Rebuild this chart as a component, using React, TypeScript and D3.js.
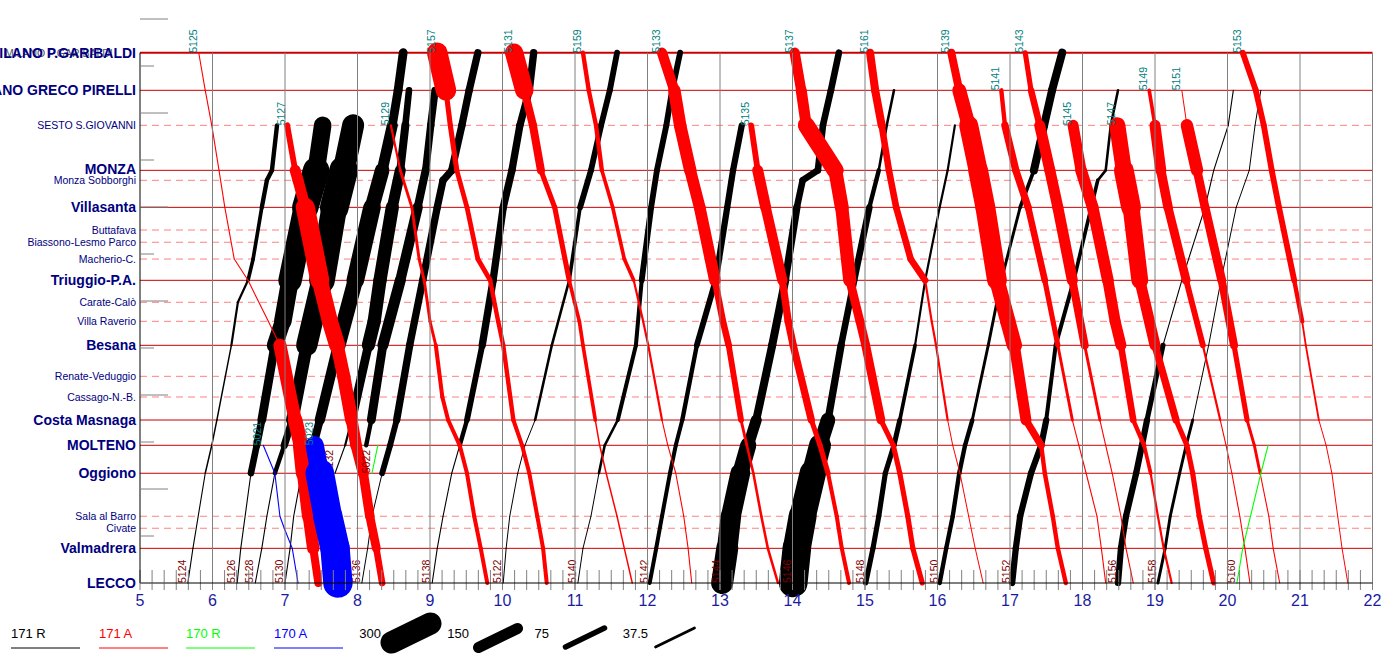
import React from "react";
import * as d3 from "d3";

const FONT = "'Liberation Sans', Arial, Helvetica, sans-serif";

// ---- stations (distance units: one tick = 4) ----
const stationCodes = ["G", "GP", "SS", "MZ", "MS", "VS", "BU", "BL", "MC", "TR", "CC", "VR", "BE", "RV", "CA", "CM", "MO", "OG", "SB", "CI", "VA", "LE"];
const stationNames = ["MILANO P.GARIBALDI", "MILANO GRECO PIRELLI", "SESTO S.GIOVANNI", "MONZA", "Monza Sobborghi", "Villasanta", "Buttafava", "Biassono-Lesmo Parco", "Macherio-C.", "Triuggio-P.A.", "Carate-Calò", "Villa Raverio", "Besana", "Renate-Veduggio", "Cassago-N.-B.", "Costa Masnaga", "MOLTENO", "Oggiono", "Sala al Barro", "Civate", "Valmadrera", "LECCO"];
const stationKm = [45.13, 41.93, 38.95, 35.12, 34.27, 31.97, 30.04, 29.0, 27.57, 25.76, 23.89, 22.27, 20.23, 17.59, 15.83, 13.87, 11.72, 9.34, 5.68, 4.66, 2.95, 0];
const stationMajor = [1, 1, 0, 1, 0, 1, 0, 0, 0, 1, 0, 0, 1, 0, 0, 1, 1, 1, 0, 0, 1, 1];

const hourTicks = [5, 6, 7, 8, 9, 10, 11, 12, 13, 14, 15, 16, 17, 18, 19, 20, 21, 22];
const distanceTicks = [0, 4, 8, 12, 16, 20, 24, 28, 32, 36, 40, 44, 48];
const loadLegend = [300, 150, 75, 37.5];
const lineNames = ["171 R", "171 A", "170 R", "170 A"];
const lineColors = ["#000000", "#ff0000", "#00ff00", "#0000ff"];

// [train number, stops, times (h), load per segment]
type Train = [string, string, number[], number[]];

const trains171R: Train[] = [
  ["5124", "LE VA OG MO CM BE VR CC TR MC VS MS MZ SS", [5.66, 5.73, 5.90, 5.99, 6.06, 6.26, 6.31, 6.35, 6.49, 6.56, 6.68, 6.75, 6.82, 6.89], [15, 15, 20, 20, 20, 30, 30, 30, 50, 50, 60, 60, 60]],
  ["5126", "LE VA OG MO CM BE VR TR VS MZ SS", [6.34, 6.39, 6.53, 6.61, 6.68, 6.86, 6.97, 7.07, 7.28, 7.43, 7.52], [15, 15, 90, 100, 120, 220, 240, 320, 360, 240]],
  ["5128", "LE VA SB OG MO CM BE TR VS MZ SS", [6.59, 6.68, 6.75, 6.86, 6.99, 7.10, 7.30, 7.51, 7.68, 7.81, 7.94], [15, 15, 15, 60, 100, 170, 290, 350, 390, 300]],
  ["5130", "LE VA SB OG MO CM BE TR VS MZ SS GP G", [7.00, 7.07, 7.12, 7.23, 7.39, 7.48, 7.73, 7.97, 8.20, 8.34, 8.48, 8.56, 8.63], [15, 15, 15, 100, 110, 140, 210, 240, 200, 150, 120, 120]],
  ["5132", "OG MO CM BE VR TR VS MZ SS GP", [7.69, 7.83, 7.92, 8.15, 8.23, 8.31, 8.48, 8.59, 8.66, 8.71], [15, 30, 120, 180, 180, 180, 150, 110, 90]],
  ["", "MO CM BE TR VS MZ SS GP", [8.12, 8.19, 8.35, 8.59, 8.83, 8.94, 9.01, 9.07], [60, 120, 150, 140, 110, 100, 100]],
  ["5136", "LE VA SB OG MO CM BE TR VS MS MZ SS GP G", [8.06, 8.14, 8.20, 8.34, 8.45, 8.54, 8.72, 8.90, 9.10, 9.18, 9.30, 9.44, 9.54, 9.66], [12, 12, 12, 80, 80, 100, 100, 100, 100, 100, 100, 100, 100]],
  ["5138", "LE VA SB OG MO CM BE TR VS MZ SS GP G", [9.03, 9.10, 9.18, 9.30, 9.41, 9.51, 9.72, 9.87, 10.01, 10.13, 10.24, 10.37, 10.43], [15, 15, 15, 15, 60, 80, 100, 100, 100, 100, 100, 100]],
  ["5122", "LE VA SB OG MO CM BE TR VS MZ SS GP G", [10.01, 10.05, 10.10, 10.21, 10.31, 10.45, 10.68, 10.92, 11.07, 11.22, 11.36, 11.48, 11.58], [12, 12, 12, 12, 12, 35, 35, 50, 80, 80, 80, 80]],
  ["5140", "LE VA SB OG MO CM BE TR VS MZ SS GP G", [11.04, 11.11, 11.22, 11.33, 11.41, 11.59, 11.84, 11.92, 12.05, 12.13, 12.26, 12.34, 12.45], [12, 12, 12, 35, 35, 55, 55, 80, 80, 80, 80, 80]],
  ["5142", "LE VA SB OG MO CM BE TR VS MZ SS", [12.03, 12.12, 12.20, 12.31, 12.39, 12.48, 12.68, 12.94, 13.10, 13.18, 13.30], [55, 55, 55, 55, 55, 60, 80, 85, 85, 85]],
  ["5144", "LE VA SB OG MO CM BE TR VS MS MZ SS GP G", [13.03, 13.10, 13.15, 13.28, 13.39, 13.50, 13.72, 13.90, 14.06, 14.14, 14.35, 14.42, 14.53, 14.64], [300, 280, 270, 220, 150, 110, 110, 100, 90, 90, 90, 90, 90]],
  ["5146", "LE VA SB OG MO CM BE TR VS MZ SS GP", [14.01, 14.06, 14.14, 14.28, 14.38, 14.49, 14.67, 14.85, 15.06, 15.19, 15.30, 15.40], [390, 380, 360, 300, 200, 100, 90, 90, 60, 35, 35]],
  ["5148", "LE VA SB OG MO CM BE TR VS MZ SS", [15.01, 15.11, 15.19, 15.28, 15.40, 15.48, 15.69, 15.83, 16.03, 16.14, 16.24], [70, 70, 70, 70, 70, 50, 30, 30, 30, 30]],
  ["5150", "LE VA SB OG MO CM BE TR VS MZ SS GP G", [16.03, 16.12, 16.21, 16.30, 16.38, 16.48, 16.70, 16.88, 17.14, 17.33, 17.47, 17.58, 17.72], [60, 60, 60, 60, 60, 40, 40, 40, 50, 110, 110, 110]],
  ["5152", "LE VA SB OG MO CM BE TR VS MS MZ SS GP", [17.03, 17.08, 17.14, 17.29, 17.43, 17.50, 17.63, 17.88, 18.12, 18.21, 18.32, 18.39, 18.49], [85, 85, 85, 85, 85, 55, 55, 50, 50, 35, 35, 35]],
  ["5156", "LE VA SB OG MO CM BE TR VS MZ SS GP", [18.49, 18.53, 18.60, 18.74, 18.82, 18.89, 19.11, 19.37, 19.69, 19.81, 20.01, 20.08], [85, 85, 85, 85, 85, 70, 15, 15, 15, 15, 15]],
  ["5158", "LE VA SB OG MO CM BE TR VS MZ SS GP", [19.04, 19.14, 19.21, 19.34, 19.43, 19.52, 19.74, 19.91, 20.12, 20.30, 20.38, 20.46], [40, 40, 40, 40, 40, 12, 12, 12, 12, 12, 12]],
];

const trains171A: Train[] = [
  ["5125", "G GP SS MZ VS MC TR VR BE CM MO OG SB VA LE", [5.81, 5.90, 5.99, 6.09, 6.17, 6.30, 6.49, 6.77, 6.93, 7.14, 7.22, 7.26, 7.33, 7.39, 7.46], [15, 15, 15, 15, 15, 15, 15, 15, 180, 200, 220, 190, 170, 110]],
  ["5127", "SS MZ MS VS TR VR BE RV CM MO OG SB VA LE", [7.03, 7.14, 7.18, 7.28, 7.48, 7.62, 7.72, 7.81, 7.92, 7.98, 8.08, 8.17, 8.26, 8.34], [80, 150, 150, 260, 220, 220, 180, 180, 160, 150, 130, 120, 90]],
  ["5129", "SS MZ VS MC TR VR BE CA CM MO OG SB VA LE", [8.46, 8.59, 8.75, 8.85, 8.92, 9.00, 9.08, 9.17, 9.25, 9.41, 9.51, 9.61, 9.70, 9.79], [30, 40, 40, 40, 40, 40, 55, 55, 55, 55, 55, 55, 55]],
  ["5157", "G GP SS MZ VS MC TR VR BE CM MO OG SB VA LE", [9.10, 9.22, 9.28, 9.37, 9.51, 9.66, 9.83, 9.94, 10.01, 10.15, 10.27, 10.37, 10.48, 10.56, 10.61], [280, 70, 70, 65, 65, 65, 60, 60, 60, 55, 55, 55, 55, 55]],
  ["5131", "G GP SS MZ VS TR VR BE CM MO OG SB VA LE", [10.16, 10.30, 10.42, 10.53, 10.72, 10.92, 11.06, 11.11, 11.28, 11.34, 11.43, 11.58, 11.68, 11.79], [250, 110, 110, 70, 70, 50, 50, 50, 20, 20, 20, 20, 20]],
  ["5159", "G GP SS MZ VS MC TR VR BE CM MO OG SB VA LE", [11.11, 11.19, 11.29, 11.37, 11.52, 11.68, 11.81, 11.94, 12.01, 12.20, 12.28, 12.39, 12.50, 12.56, 12.61], [60, 60, 60, 50, 50, 50, 30, 30, 30, 15, 15, 15, 15, 15]],
  ["5133", "G GP SS MZ VS TR VR BE CM MO OG SB VA LE", [12.20, 12.37, 12.45, 12.59, 12.72, 12.93, 13.04, 13.12, 13.29, 13.37, 13.46, 13.57, 13.66, 13.80], [140, 170, 170, 160, 160, 90, 90, 80, 40, 35, 35, 35, 35]],
  ["5135", "SS MZ VS TR VR BE CM MO OG SB VA LE", [13.43, 13.52, 13.63, 13.86, 13.94, 14.01, 14.26, 14.38, 14.49, 14.61, 14.68, 14.78], [80, 150, 140, 100, 100, 100, 70, 70, 55, 55, 55]],
  ["5137", "G GP SS MZ VS TR VR BE CM MO OG SB VA LE", [14.03, 14.12, 14.19, 14.59, 14.68, 14.79, 14.93, 15.01, 15.22, 15.39, 15.48, 15.59, 15.66, 15.79], [140, 150, 230, 190, 180, 120, 120, 120, 70, 70, 70, 70, 70]],
  ["5161", "G GP SS MZ VS MC TR VR BE CM MO OG SB VA LE", [15.07, 15.14, 15.23, 15.33, 15.43, 15.63, 15.83, 15.92, 15.98, 16.14, 16.21, 16.31, 16.43, 16.52, 16.63], [110, 110, 90, 90, 90, 90, 30, 30, 30, 12, 12, 12, 12, 12]],
  ["5139", "G GP SS MZ VS TR VR BE CM MO OG SB VA LE", [16.19, 16.30, 16.43, 16.56, 16.66, 16.82, 16.97, 17.06, 17.22, 17.43, 17.48, 17.59, 17.66, 17.77], [110, 190, 260, 270, 270, 210, 210, 150, 100, 60, 60, 60, 60]],
  ["5141", "GP SS MZ VS TR BE CM MO OG SB VA LE", [16.88, 16.93, 17.08, 17.25, 17.48, 17.66, 17.86, 17.95, 18.05, 18.20, 18.26, 18.32], [60, 100, 100, 90, 70, 40, 15, 15, 15, 15, 15]],
  ["5143", "G GP SS MZ VS TR BE CM MO OG SB VA LE", [17.21, 17.29, 17.41, 17.55, 17.66, 17.86, 18.03, 18.24, 18.32, 18.41, 18.53, 18.60, 18.70], [70, 90, 150, 150, 150, 110, 40, 15, 15, 15, 15, 15]],
  ["5145", "SS MZ VS TR VR BE CM MO OG SB VA LE", [17.87, 17.98, 18.14, 18.35, 18.45, 18.53, 18.70, 18.85, 18.94, 19.04, 19.12, 19.23], [150, 160, 160, 150, 150, 90, 60, 50, 30, 30, 30]],
  ["5147", "SS MZ VS TR BE CM MO OG SB VA LE", [18.48, 18.57, 18.67, 18.79, 19.00, 19.29, 19.44, 19.52, 19.61, 19.70, 19.81], [220, 270, 230, 150, 100, 70, 70, 70, 70, 70]],
  ["5149", "GP SS MZ VS TR BE CM MO OG SB VA LE", [18.92, 19.00, 19.08, 19.18, 19.43, 19.66, 19.90, 19.98, 20.06, 20.17, 20.24, 20.31], [50, 150, 130, 120, 80, 30, 15, 15, 15, 15, 15]],
  ["5151", "GP SS MZ VS TR BE CM MO OG SB VA LE", [19.37, 19.44, 19.58, 19.69, 19.92, 20.09, 20.27, 20.37, 20.45, 20.57, 20.63, 20.72], [12, 170, 120, 120, 110, 70, 40, 40, 15, 15, 15]],
  ["5153", "G GP SS MZ VS TR VR BE CM MO OG SB VA LE", [20.21, 20.39, 20.50, 20.61, 20.71, 20.92, 21.03, 21.08, 21.26, 21.36, 21.44, 21.52, 21.58, 21.66], [80, 80, 80, 80, 80, 60, 25, 25, 10, 10, 10, 10, 10]],
];

const trains170R: Train[] = [
  ["5022", "OG MO", [8.20, 8.28], [15]],
  ["5160", "LE VA OG MO", [20.13, 20.21, 20.46, 20.56], [15, 15, 15]],
];

const trains170A: Train[] = [
  ["5021", "MO OG SB CI VA LE", [6.70, 6.86, 6.93, 6.99, 7.10, 7.18], [15, 15, 15, 15, 15]],
  ["5023", "MO OG SB VA LE", [7.41, 7.48, 7.59, 7.69, 7.73], [250, 390, 400, 400]],
];

export default function App() {
  const W = 1400;
  const H = 655;
  const x = d3.scaleLinear().domain([5, 22]).range([140, 1372.5]);
  const y = d3.scaleLinear().domain([0, 48]).range([583, 19]);
  const wScale = d3.scaleLinear().domain([0, 300]).range([0, 22]);
  const kmOf = (c: string) => stationKm[stationCodes.indexOf(c)];
  const yTop = y(stationKm[0]);
  const yBot = y(0);
  const xL = x(5);
  const xR = x(22);

  const groups = [
    { trains: trains171R, color: lineColors[0], labelColor: "#800000" },
    { trains: trains171A, color: lineColors[1], labelColor: "#008080" },
    { trains: trains170R, color: lineColors[2], labelColor: "#800000" },
    { trains: trains170A, color: lineColors[3], labelColor: "#008080" },
  ];

  const tenMin = d3.range(5 * 6, 22 * 6 + 1).map((v) => v / 6);
  const navy = "#000080";

  return (
    <svg width={W} height={H} style={{ position: "absolute", left: 0, top: 0, background: "#fff" }} fontFamily={FONT}>
      <rect x={0} y={0} width={W} height={H} fill="#fff" />

      {/* station lines (under trains) */}
      {stationCodes.map((c, i) => {
        const yy = y(stationKm[i]);
        if (c === "LE") return null;
        return stationMajor[i] ? (
          <line key={c} x1={xL} x2={xR} y1={yy} y2={yy} stroke="#c80000" strokeWidth={c === "G" ? 2 : 1} />
        ) : (
          <line key={c} x1={xL} x2={xR} y1={yy} y2={yy} stroke="#ff8080" strokeWidth={1} strokeDasharray="7,5" />
        );
      })}

      {/* trains */}
      {groups.map((g, gi) => (
        <g key={gi}>
          {g.trains.map(([id, stops, times, loads], ti) => {
            const codes = stops.split(" ");
            const pts = codes.map((c, i) => [x(times[i]), y(kmOf(c))]);
            const n = Math.min(loads.length, pts.length - 1);
            return (
              <g key={ti}>
                {d3.range(n).map((i) => (
                  <line
                    key={i}
                    x1={pts[i][0]}
                    y1={pts[i][1]}
                    x2={pts[i + 1][0]}
                    y2={pts[i + 1][1]}
                    stroke={g.color}
                    strokeWidth={Math.max(1, wScale(loads[i]))}
                    strokeLinecap="round"
                  />
                ))}
                {id ? (
                  <text transform={`translate(${pts[0][0] - 2},${pts[0][1]}) rotate(-90)`} fontSize={10.5} fill={g.labelColor}>
                    {id}
                  </text>
                ) : null}
              </g>
            );
          })}
        </g>
      ))}

      {/* hour grid lines */}
      {hourTicks.slice(1).map((h) => (
        <line key={h} x1={x(h)} x2={x(h)} y1={yTop} y2={590} stroke="#808080" strokeWidth={1} />
      ))}
      {/* 10-minute ticks */}
      {tenMin.map((t, i) => (
        <line key={i} x1={x(t)} x2={x(t)} y1={570} y2={590} stroke="#808080" strokeWidth={1} />
      ))}

      {/* axes */}
      <line x1={xL} x2={xL} y1={yTop} y2={yBot} stroke="#000" strokeWidth={1} />
      <line x1={xL} x2={xR} y1={yBot} y2={yBot} stroke="#000" strokeWidth={1} />

      {/* distance ticks */}
      {distanceTicks.map((d, k) => (
        <line key={d} x1={xL} x2={xL + (k % 2 === 0 ? 28 : 14)} y1={y(d)} y2={y(d)} stroke="#808080" strokeWidth={1} />
      ))}

      {/* station labels */}
      <text x={5} y={yTop + 4} fontSize={10.5} fill="#505070">
        {stationNames[0]}
      </text>
      {stationNames.map((name, i) => {
        const yy = y(stationKm[i]);
        return stationMajor[i] ? (
          <text key={name} x={136} y={yy + (name === "MONZA" ? 4 : 5)} textAnchor="end" fontSize={14} fontWeight="bold" fill={navy}>
            {name}
          </text>
        ) : (
          <text key={name} x={136} y={yy + 4} textAnchor="end" fontSize={10.5} fill={navy}>
            {name}
          </text>
        );
      })}

      {/* hour labels */}
      {hourTicks.map((h) => (
        <text key={h} x={x(h)} y={606} textAnchor="middle" fontSize={16} fill="#1c1ca0">
          {h}
        </text>
      ))}

      {/* legend: lines */}
      {lineNames.map((nm, i) => {
        const lx = [11, 99, 186, 274][i];
        return (
          <g key={nm}>
            <text x={lx} y={638} fontSize={13} fill={lineColors[i]}>
              {nm}
            </text>
            <line x1={lx} x2={lx + 69} y1={648} y2={648} stroke={lineColors[i]} strokeWidth={1} />
          </g>
        );
      })}
      {/* legend: loads */}
      {loadLegend.map((v, i) => {
        const cx = [411, 498, 585, 675][i];
        const cy = [633, 638, 637.5, 637.5][i];
        const tx = [381, 469, 549, 648][i];
        return (
          <g key={v}>
            <text x={tx} y={638} textAnchor="end" fontSize={13} fill="#000">
              {v}
            </text>
            <line x1={cx - 19.5} y1={cy + 9.5} x2={cx + 19.5} y2={cy - 9.5} stroke="#000" strokeWidth={wScale(v)} strokeLinecap="round" />
          </g>
        );
      })}
    </svg>
  );
}
